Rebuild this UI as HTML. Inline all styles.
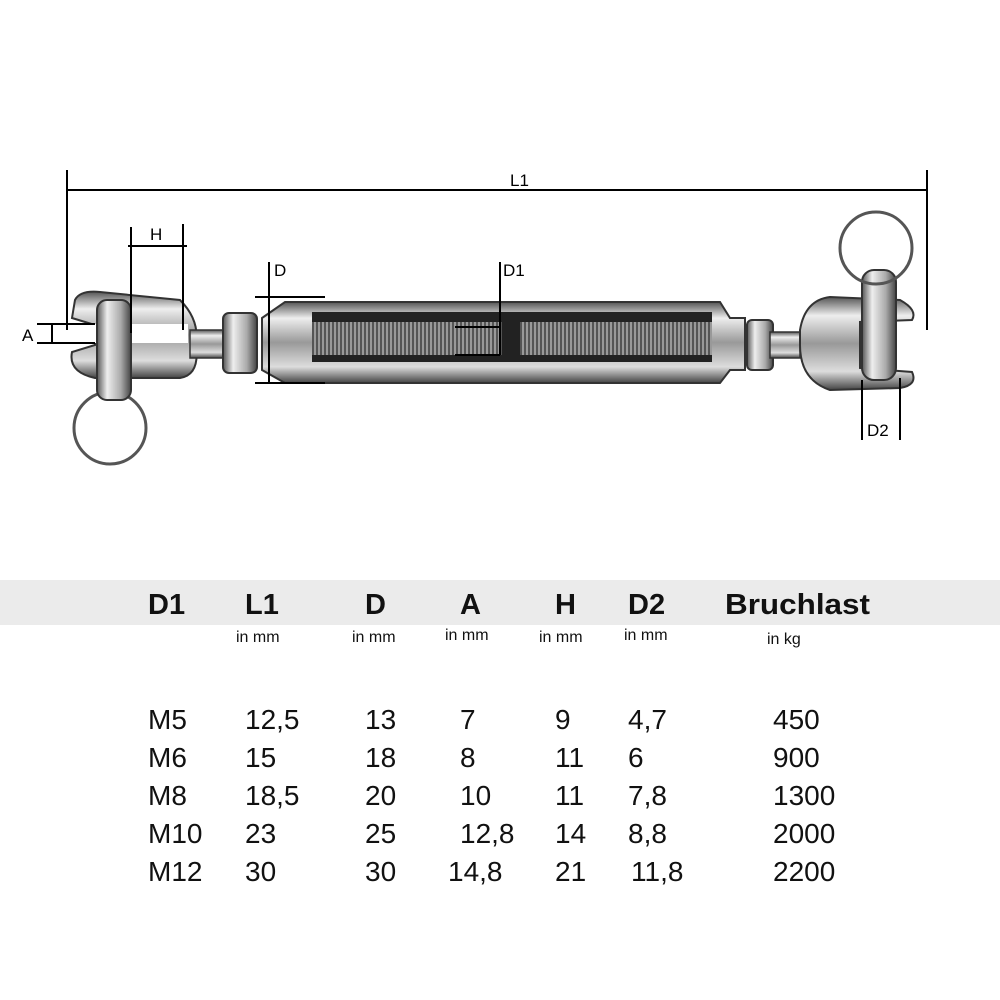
<!DOCTYPE html>
<html><head><meta charset="utf-8"><style>
html,body{margin:0;padding:0;background:#fff;}
svg{display:block}
text{font-family:"Liberation Sans",sans-serif;}
</style></head><body>
<svg width="1000" height="1000" viewBox="0 0 1000 1000" xmlns="http://www.w3.org/2000/svg">
<defs>
<linearGradient id="m" x1="0" y1="0" x2="0" y2="1">
<stop offset="0" stop-color="#555"/><stop offset="0.2" stop-color="#eee"/><stop offset="0.5" stop-color="#999"/><stop offset="0.8" stop-color="#ddd"/><stop offset="1" stop-color="#444"/>
</linearGradient>
<linearGradient id="mv" x1="0" y1="0" x2="1" y2="0">
<stop offset="0" stop-color="#555"/><stop offset="0.3" stop-color="#eee"/><stop offset="0.7" stop-color="#aaa"/><stop offset="1" stop-color="#444"/>
</linearGradient>
<pattern id="thr" width="4" height="30" patternUnits="userSpaceOnUse">
<rect width="4" height="30" fill="#999"/><rect width="2" height="30" fill="#555"/>
</pattern>
</defs>
<circle cx="110" cy="428" r="36" fill="none" stroke="#555" stroke-width="3"/>
<path d="M75,300 Q80,290 100,292 L180,300 Q200,320 196,345 Q200,375 180,378 L95,378 Q68,372 72,352 L95,345 L95,325 L72,318 Z" fill="url(#m)" stroke="#333" stroke-width="2"/>
<rect x="70" y="324" width="118" height="19" fill="#fff"/>
<rect x="97" y="300" width="34" height="100" rx="10" fill="url(#mv)" stroke="#333" stroke-width="2"/>
<rect x="190" y="330" width="40" height="28" fill="url(#m)" stroke="#333" stroke-width="1.5"/>
<rect x="223" y="313" width="34" height="60" rx="6" fill="url(#mv)" stroke="#333" stroke-width="2"/>
<path d="M262,318 L285,302 L720,302 L730,318 L745,318 L745,370 L730,370 L720,383 L285,383 L262,370 Z" fill="url(#m)" stroke="#333" stroke-width="2"/>
<rect x="312" y="312" width="400" height="50" fill="#222"/>
<rect x="312" y="322" width="190" height="33" fill="url(#thr)"/>
<rect x="520" y="322" width="192" height="33" fill="url(#thr)"/>
<rect x="747" y="320" width="26" height="50" rx="5" fill="url(#mv)" stroke="#333" stroke-width="2"/>
<rect x="770" y="332" width="30" height="26" fill="url(#m)" stroke="#333" stroke-width="1.5"/>
<path d="M800,330 Q805,300 830,297 L900,300 Q918,310 912,320 L860,322 L860,368 L912,372 Q918,385 900,388 L830,390 Q800,380 800,345 Z" fill="url(#m)" stroke="#333" stroke-width="2"/>
<rect x="862" y="270" width="34" height="110" rx="12" fill="url(#mv)" stroke="#333" stroke-width="2"/>
<circle cx="876" cy="248" r="36" fill="none" stroke="#555" stroke-width="3"/>
<g stroke="#000" stroke-width="2" fill="none">
<line x1="67" y1="170" x2="67" y2="330"/>
<line x1="927" y1="170" x2="927" y2="330"/>
<line x1="67" y1="190" x2="927" y2="190"/>
<line x1="131" y1="227" x2="131" y2="333"/>
<line x1="183" y1="224" x2="183" y2="330"/>
<line x1="128" y1="246" x2="187" y2="246"/>
<line x1="37" y1="324" x2="95" y2="324"/>
<line x1="37" y1="343" x2="95" y2="343"/>
<line x1="52" y1="324" x2="52" y2="343"/>
<line x1="269" y1="262" x2="269" y2="383"/>
<line x1="255" y1="297" x2="325" y2="297"/>
<line x1="255" y1="383" x2="325" y2="383"/>
<line x1="500" y1="262" x2="500" y2="355"/>
<line x1="455" y1="327" x2="500" y2="327"/>
<line x1="455" y1="355" x2="500" y2="355"/>
<line x1="862" y1="380" x2="862" y2="440"/>
<line x1="900" y1="378" x2="900" y2="440"/>
</g>
<g font-size="17" fill="#000">
<text x="510" y="186">L1</text>
<text x="150" y="240">H</text>
<text x="22" y="341">A</text>
<text x="274" y="276">D</text>
<text x="503" y="276">D1</text>
<text x="867" y="436">D2</text>
</g>
<rect x="0" y="580" width="1000" height="45" fill="#ebebeb"/>
<g font-size="29" font-weight="bold" fill="#111">
<text x="148" y="614">D1</text>
<text x="245" y="614">L1</text>
<text x="365" y="614">D</text>
<text x="460" y="614">A</text>
<text x="555" y="614">H</text>
<text x="628" y="614">D2</text>
<text x="725" y="614" textLength="145" lengthAdjust="spacingAndGlyphs">Bruchlast</text>
</g>
<g font-size="16" fill="#111">
<text x="236" y="642">in mm</text>
<text x="352" y="642">in mm</text>
<text x="445" y="640">in mm</text>
<text x="539" y="642">in mm</text>
<text x="624" y="640">in mm</text>
<text x="767" y="644">in kg</text>
</g>
<g font-size="28" fill="#111">
<text y="729"><tspan x="148">M5</tspan><tspan x="245">12,5</tspan><tspan x="365">13</tspan><tspan x="460">7</tspan><tspan x="555">9</tspan><tspan x="628">4,7</tspan><tspan x="773">450</tspan></text>
<text y="767"><tspan x="148">M6</tspan><tspan x="245">15</tspan><tspan x="365">18</tspan><tspan x="460">8</tspan><tspan x="555">11</tspan><tspan x="628">6</tspan><tspan x="773">900</tspan></text>
<text y="805"><tspan x="148">M8</tspan><tspan x="245">18,5</tspan><tspan x="365">20</tspan><tspan x="460">10</tspan><tspan x="555">11</tspan><tspan x="628">7,8</tspan><tspan x="773">1300</tspan></text>
<text y="843"><tspan x="148">M10</tspan><tspan x="245">23</tspan><tspan x="365">25</tspan><tspan x="460">12,8</tspan><tspan x="555">14</tspan><tspan x="628">8,8</tspan><tspan x="773">2000</tspan></text>
<text y="881"><tspan x="148">M12</tspan><tspan x="245">30</tspan><tspan x="365">30</tspan><tspan x="448">14,8</tspan><tspan x="555">21</tspan><tspan x="631">11,8</tspan><tspan x="773">2200</tspan></text>
</g>
</svg>
</body></html>
